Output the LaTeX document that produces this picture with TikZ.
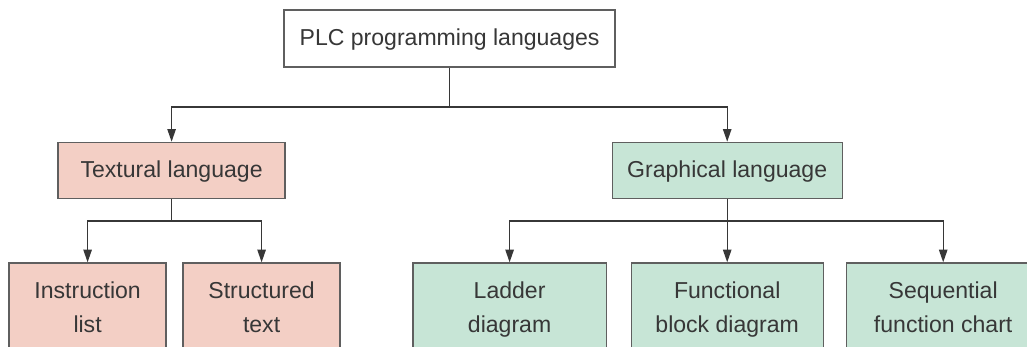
\documentclass[tikz,border=0pt]{standalone}
\usepackage{fontspec}
\setmainfont{Liberation Sans}
\usepackage{tikz}
\usetikzlibrary{arrows.meta,calc}

\definecolor{boxline}{RGB}{95,95,95}
\definecolor{pinkfill}{RGB}{243,207,197}
\definecolor{greenfill}{RGB}{199,229,214}
\definecolor{txt}{RGB}{55,55,55}

\begin{document}
\begin{tikzpicture}
		[box/.style={rectangle,draw=boxline,line width=1pt,text=txt,inner sep=0pt,align=center,
			font=\fontsize{16.4}{24}\selectfont,execute at begin node=\strut,execute at end node=\strut},
		 textbox/.style={box,fill=pinkfill},
		 graphbox/.style={box,fill=greenfill},
		 arr/.style={draw=txt,line width=0.9pt,-{Triangle[length=9pt,width=6pt]}},
		 link/.style={draw=txt,line width=0.9pt}]
		\clip (0,0) rectangle (25.675,8.65);
		\fill[white] (0,0) rectangle (25.675,8.65);
		
		\node[box,fill=white,minimum width=8.27cm,minimum height=1.42cm] (plc) at (11.24,7.69){PLC programming languages};
		
		\node[textbox,minimum width=5.68cm,minimum height=1.4cm] (textual) at (4.29,4.39){Textural language};
		\node[graphbox,minimum width=5.75cm,minimum height=1.4cm] (graphical) at (18.18,4.39){Graphical language};
		
		\node[textbox,minimum width=3.93cm,minimum height=2.45cm] (il) at (2.19,0.85){Instruction\\list};
		\node[textbox,minimum width=3.93cm,minimum height=2.45cm] (st) at (6.54,0.85){Structured\\text};
		\node[graphbox,minimum width=4.83cm,minimum height=2.45cm] (ld) at (12.74,0.85){Ladder\\diagram};
		\node[graphbox,minimum width=4.8cm,minimum height=2.45cm] (fbd) at (18.18,0.85){Functional\\block diagram};
		\node[graphbox,minimum width=4.83cm,minimum height=2.45cm] (sfc) at (23.58,0.85){Sequential\\function chart};
		
		\coordinate (top split) at ($(plc.south)+(0,-0.99)$);
		\coordinate (text split) at ($(textual.south)+(0,-0.55)$);
		\coordinate (graph split) at ($(graphical.south)+(0,-0.55)$);
		
		\draw[link] (plc.south) -- (top split);
		\draw[arr] (top split) -| (textual.north);
		\draw[arr] (top split) -| (graphical.north);
		
		\draw[link] (textual.south) -- (text split);
		\draw[arr] (text split) -| (il.north);
		\draw[arr] (text split) -| (st.north);
		
		\draw[arr] (graphical.south) -- (fbd.north);
		\draw[arr] (graph split) -| (ld.north);
		\draw[arr] (graph split) -| (sfc.north);
		
	\end{tikzpicture}
\end{document}
